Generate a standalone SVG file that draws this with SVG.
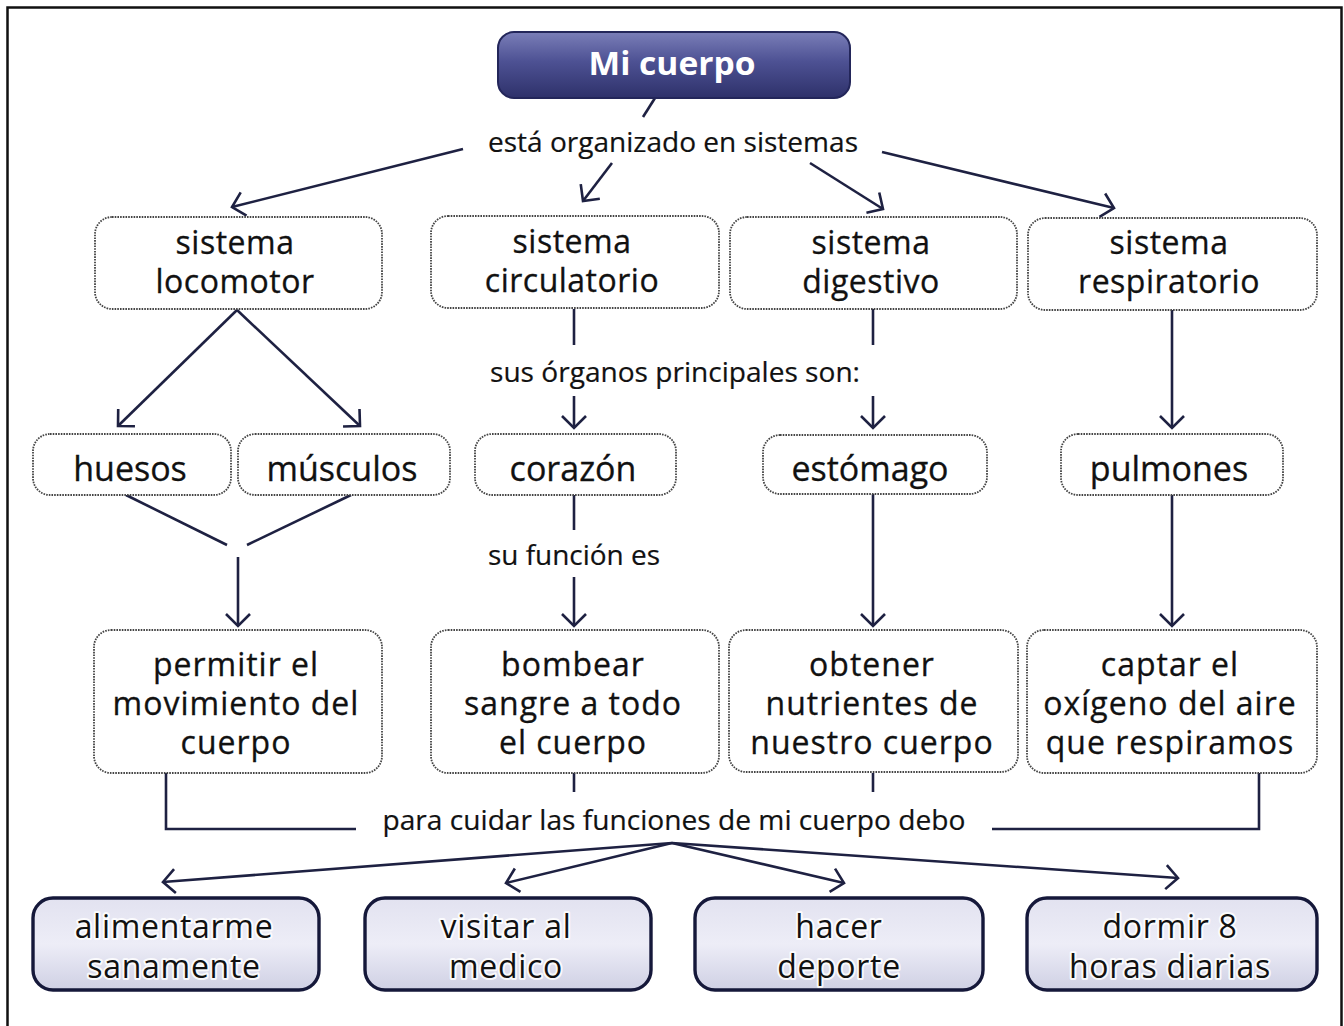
<svg xmlns="http://www.w3.org/2000/svg" width="1344" height="1026" viewBox="0 0 1344 1026">
<style>
.t{font-family:"Open Sans","Noto Sans","DejaVu Sans",sans-serif;fill:#111;text-anchor:middle;stroke:#111;stroke-width:0.3}
.s30{font-size:32px;letter-spacing:0.5px}
.s32{font-size:34px}
.s35{font-size:32px;letter-spacing:1px}
.sb{font-size:32px;letter-spacing:0.7px}
.lbl{font-size:27px;stroke-width:0.2}
.dot{fill:#fff;stroke:#444;stroke-width:1.8;stroke-dasharray:1.6 1.1}
.act{fill:url(#actg);stroke:#15183a;stroke-width:3.4}
.glow{stroke:#fff;stroke-width:4;stroke-opacity:0.85;paint-order:stroke;stroke-linejoin:round}
#connectors line,#connectors path{stroke:#1e2142;stroke-width:2.6;fill:none}
.ar{marker-end:url(#arr)}
</style>
<defs>
<linearGradient id="topg" x1="0" y1="0" x2="0" y2="1">
<stop offset="0" stop-color="#7a7eb8"/>
<stop offset="0.45" stop-color="#4d5193"/>
<stop offset="1" stop-color="#2e316a"/>
</linearGradient>
<linearGradient id="actg" x1="0" y1="0" x2="0" y2="1">
<stop offset="0" stop-color="#e2e2f0"/>
<stop offset="0.5" stop-color="#ededf7"/>
<stop offset="1" stop-color="#cfd0e4"/>
</linearGradient>
<marker id="arr" markerUnits="userSpaceOnUse" markerWidth="18" markerHeight="30" viewBox="0 -15 18 30" refX="15" refY="0" orient="auto">
<path d="M3,-12 L15,0 L3,12" fill="none" stroke="#1e2142" stroke-width="2.6" stroke-linejoin="miter"/>
</marker>
</defs>

<rect x="0" y="0" width="1344" height="1026" fill="#fff"/>
<rect x="7.5" y="7.5" width="1334" height="1040" fill="none" stroke="#111" stroke-width="2.5"/>

<g id="connectors">
<line x1="655" y1="98" x2="643" y2="117"/>
<line class="ar" x1="463" y1="149" x2="232" y2="207"/>
<line class="ar" x1="612" y1="163" x2="583" y2="201"/>
<line class="ar" x1="810" y1="163" x2="883" y2="209"/>
<line class="ar" x1="882" y1="152" x2="1114" y2="208"/>
<line class="ar" x1="237" y1="310" x2="118" y2="426"/>
<line class="ar" x1="237" y1="310" x2="360" y2="426"/>
<line x1="574" y1="309" x2="574" y2="345"/>
<line class="ar" x1="574" y1="396" x2="574" y2="428"/>
<line x1="873" y1="309" x2="873" y2="345"/>
<line class="ar" x1="873" y1="396" x2="873" y2="428"/>
<line class="ar" x1="1172" y1="310" x2="1172" y2="428"/>
<line x1="126" y1="495" x2="227" y2="545"/>
<line x1="351" y1="495" x2="247" y2="545"/>
<line class="ar" x1="238" y1="557" x2="238" y2="626"/>
<line x1="574" y1="495" x2="574" y2="530"/>
<line class="ar" x1="574" y1="577" x2="574" y2="626"/>
<line class="ar" x1="873" y1="494" x2="873" y2="626"/>
<line class="ar" x1="1172" y1="495" x2="1172" y2="626"/>
<path d="M166,773 V829 H356"/>
<line x1="574" y1="773" x2="574" y2="792"/>
<line x1="873" y1="773" x2="873" y2="792"/>
<path d="M992,829 H1259 V773"/>
<line class="ar" x1="672" y1="843" x2="163" y2="882"/>
<line class="ar" x1="672" y1="843" x2="506" y2="883"/>
<line class="ar" x1="672" y1="843" x2="844" y2="883"/>
<line class="ar" x1="672" y1="843" x2="1178" y2="878"/>
</g>

<g id="labels">
<text class="t lbl" x="673" y="152" textLength="370" lengthAdjust="spacingAndGlyphs">está organizado en sistemas</text>
<text class="t lbl" x="675" y="382" textLength="370" lengthAdjust="spacingAndGlyphs">sus órganos principales son:</text>
<text class="t lbl" x="574" y="565" textLength="172" lengthAdjust="spacingAndGlyphs">su función es</text>
<text class="t lbl" x="674" y="830" textLength="583" lengthAdjust="spacingAndGlyphs">para cuidar las funciones de mi cuerpo debo</text>
</g>

<g id="n-micuerpo">
<rect x="498" y="32" width="352" height="66" rx="16" fill="url(#topg)" stroke="#23265a" stroke-width="2"/>
<text class="t" x="672" y="75" style="font-size:33px;font-weight:700;fill:#fff;stroke:none" textLength="167" lengthAdjust="spacingAndGlyphs">Mi cuerpo</text>
</g>

<g id="n-locomotor">
<rect class="dot" x="95" y="217" width="287" height="92" rx="17"/>
<text class="t s30" x="235" y="254">sistema</text>
<text class="t s30" x="235" y="293">locomotor</text>
</g>
<g id="n-circulatorio">
<rect class="dot" x="431" y="216" width="288" height="92" rx="17"/>
<text class="t s30" x="572" y="253">sistema</text>
<text class="t s30" x="572" y="292">circulatorio</text>
</g>
<g id="n-digestivo">
<rect class="dot" x="730" y="217" width="287" height="92" rx="17"/>
<text class="t s30" x="871" y="254">sistema</text>
<text class="t s30" x="871" y="293">digestivo</text>
</g>
<g id="n-respiratorio">
<rect class="dot" x="1028" y="218" width="289" height="92" rx="17"/>
<text class="t s30" x="1169" y="254">sistema</text>
<text class="t s30" x="1169" y="293">respiratorio</text>
</g>

<g id="n-huesos">
<rect class="dot" x="33" y="434" width="198" height="61" rx="17"/>
<text class="t s32" x="130" y="481">huesos</text>
</g>
<g id="n-musculos">
<rect class="dot" x="238" y="434" width="212" height="61" rx="17"/>
<text class="t s32" x="342" y="481">músculos</text>
</g>
<g id="n-corazon">
<rect class="dot" x="475" y="434" width="201" height="61" rx="17"/>
<text class="t s32" x="573" y="481">corazón</text>
</g>
<g id="n-estomago">
<rect class="dot" x="763" y="435" width="224" height="59" rx="17"/>
<text class="t s32" x="870" y="481">estómago</text>
</g>
<g id="n-pulmones">
<rect class="dot" x="1061" y="434" width="222" height="61" rx="17"/>
<text class="t s32" x="1169" y="481">pulmones</text>
</g>

<g id="n-permitir">
<rect class="dot" x="94" y="630" width="288" height="143" rx="17"/>
<text class="t s35" x="236" y="676">permitir el</text>
<text class="t s35" x="236" y="715">movimiento del</text>
<text class="t s35" x="236" y="754">cuerpo</text>
</g>
<g id="n-bombear">
<rect class="dot" x="431" y="630" width="288" height="143" rx="17"/>
<text class="t s35" x="573" y="676">bombear</text>
<text class="t s35" x="573" y="715">sangre a todo</text>
<text class="t s35" x="573" y="754">el cuerpo</text>
</g>
<g id="n-obtener">
<rect class="dot" x="729" y="630" width="289" height="142" rx="17"/>
<text class="t s35" x="872" y="676">obtener</text>
<text class="t s35" x="872" y="715">nutrientes de</text>
<text class="t s35" x="872" y="754">nuestro cuerpo</text>
</g>
<g id="n-captar">
<rect class="dot" x="1027" y="630" width="290" height="143" rx="17"/>
<text class="t s35" x="1170" y="676">captar el</text>
<text class="t s35" x="1170" y="715">oxígeno del aire</text>
<text class="t s35" x="1170" y="754">que respiramos</text>
</g>

<g id="n-alimentarme">
<rect class="act" x="33" y="898" width="286" height="92" rx="20"/>
<text class="t sb glow" x="174" y="938">alimentarme</text>
<text class="t sb glow" x="174" y="978">sanamente</text>
</g>
<g id="n-visitar">
<rect class="act" x="365" y="898" width="286" height="92" rx="20"/>
<text class="t sb glow" x="506" y="938">visitar al</text>
<text class="t sb glow" x="506" y="978">medico</text>
</g>
<g id="n-hacer">
<rect class="act" x="695" y="898" width="288" height="92" rx="20"/>
<text class="t sb glow" x="839" y="938">hacer</text>
<text class="t sb glow" x="839" y="978">deporte</text>
</g>
<g id="n-dormir">
<rect class="act" x="1027" y="898" width="290" height="92" rx="20"/>
<text class="t sb glow" x="1170" y="938">dormir 8</text>
<text class="t sb glow" x="1170" y="978">horas diarias</text>
</g>
</svg>
